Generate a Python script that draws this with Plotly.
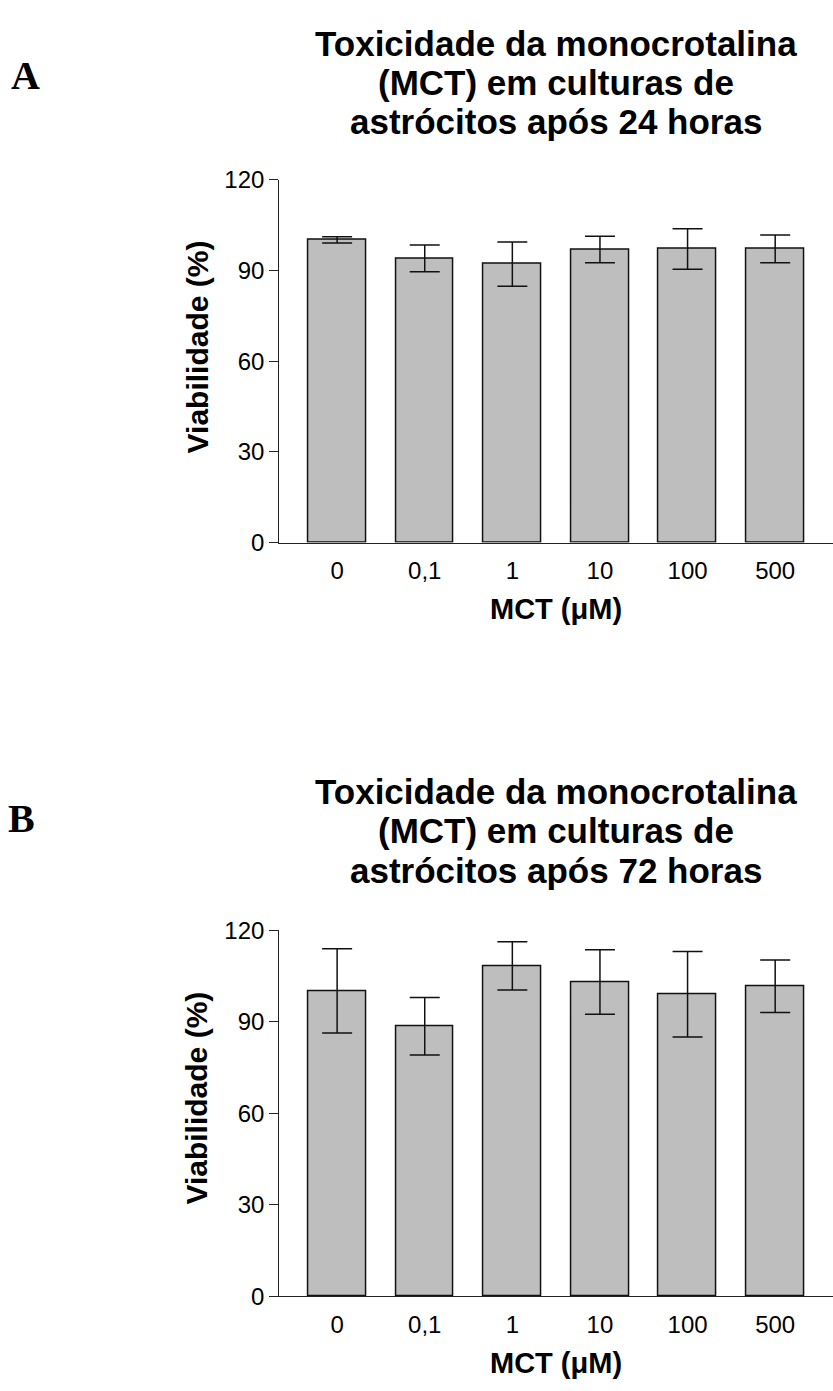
import plotly.graph_objects as go

W, H = 833, 1391

categories = ["0", "0,1", "1", "10", "100", "500"]
viab_24h = [100.1, 94.0, 92.1, 96.9, 97.1, 97.1]
err_24h = [1.0, 4.4, 7.3, 4.4, 6.7, 4.6]
viab_72h = [100.1, 88.5, 108.3, 103.0, 99.0, 101.6]
err_72h = [13.8, 9.4, 7.9, 10.6, 14.0, 8.6]
y_ticks = [0, 30, 60, 90, 120]

titles = [
    ["Toxicidade da monocrotalina", "(MCT) em culturas de", "astrócitos após 24 horas"],
    ["Toxicidade da monocrotalina", "(MCT) em culturas de", "astrócitos após 72 horas"],
]
panel_labels = ["A", "B"]
y_title = "Viabilidade (%)"
x_title = "MCT (μM)"

FONT = "Liberation Sans, Arial, sans-serif"


def py(pix):
    return 1 - pix / H


def px(pix):
    return pix / W


fig = go.Figure()

series = [(viab_24h, err_24h), (viab_72h, err_72h)]
for i, (vals, errs) in enumerate(series):
    fig.add_trace(go.Bar(
        x=categories, y=vals,
        error_y=dict(type="data", array=errs, visible=True, color="#111111",
                     thickness=1.5, width=15),
        marker=dict(color="#bebebe", line=dict(color="#111111", width=1.5)),
        width=0.66,
        xaxis="x" if i == 0 else "x2",
        yaxis="y" if i == 0 else "y2",
        showlegend=False,
    ))

# pixel geometry of each panel: (y of 120, y of 0)
panels = [(169, 539), (934.3, 1307.5)]
x_left = 279.3

axis_common_x = dict(
    type="category", range=[-0.66, 5.66], showline=True, linecolor="#222222",
    linewidth=1.2, ticks="", showgrid=False, zeroline=False,
    tickfont=dict(family=FONT, size=24, color="black"), ticklabelstandoff=7,
    domain=[px(x_left), 1],
)
axis_common_y = dict(
    range=[0, 120], tickvals=y_ticks, showline=True, linecolor="#222222",
    linewidth=1.2, ticks="outside", ticklen=9, tickwidth=1.2, tickcolor="#222222",
    showgrid=False, zeroline=False,
    tickfont=dict(family=FONT, size=24, color="black"),
)

layout = dict(
    width=W, height=H, margin=dict(l=0, r=0, t=0, b=0),
    paper_bgcolor="white", plot_bgcolor="white", bargap=0,
)
layout["xaxis"] = dict(axis_common_x, anchor="y")
layout["xaxis2"] = dict(axis_common_x, anchor="y2")
layout["yaxis"] = dict(axis_common_y, anchor="x", domain=[py(panels[0][1]), py(panels[0][0])])
layout["yaxis2"] = dict(axis_common_y, anchor="x2", domain=[py(panels[1][1]), py(panels[1][0])])
fig.update_layout(**layout)

annotations = []
title_centers = [[30, 70, 110], [793, 833, 873]]
label_pos = [(25, 63), (21, 820)]
ytitle_y = [340, 1106]
xtitle_y = [607, 1376]
cx = (x_left + W) / 2
for i in range(2):
    for line, yc in zip(titles[i], title_centers[i]):
        annotations.append(dict(
            text="<b>%s</b>" % line, x=px(cx), y=py(yc), xref="paper", yref="paper",
            xanchor="center", yanchor="middle", showarrow=False,
            font=dict(family=FONT, size=35, color="black"),
        ))
    lx, ly = label_pos[i]
    annotations.append(dict(
        text="<b>%s</b>" % panel_labels[i], x=px(lx), y=py(ly), xref="paper", yref="paper",
        xanchor="center", yanchor="middle", showarrow=False,
        font=dict(family="Liberation Serif, Times New Roman, serif", size=40, color="black"),
    ))
    annotations.append(dict(
        text="<b>%s</b>" % y_title, x=px(197), y=py(ytitle_y[i]), xref="paper", yref="paper",
        xanchor="center", yanchor="middle", showarrow=False, textangle=-90,
        font=dict(family=FONT, size=30, color="black"),
    ))
    annotations.append(dict(
        text="<b>%s</b>" % x_title, x=px(cx), y=py(xtitle_y[i]), xref="paper", yref="paper",
        xanchor="center", yanchor="middle", showarrow=False,
        font=dict(family=FONT, size=29, color="black"),
    ))
fig.update_layout(annotations=annotations)

fig.write_html("out.html")
